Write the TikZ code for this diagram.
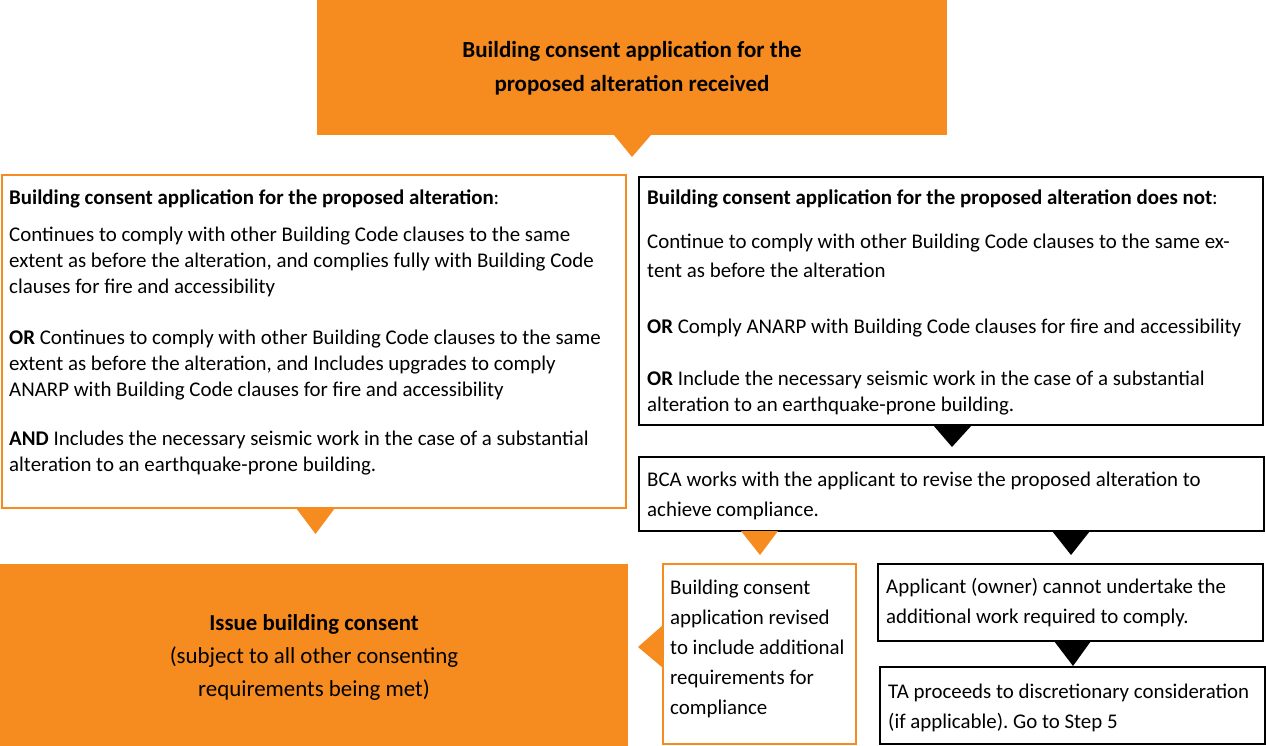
\documentclass[tikz,border=0pt]{standalone}
\usepackage{fontspec}
\setmainfont{Carlito}
\frenchspacing
\definecolor{org}{RGB}{246,139,31}
\begin{document}
\begin{tikzpicture}[x=1pt,y=-1pt,
  txt/.style={anchor=base west,inner sep=0pt,font=\fontsize{20.9}{24}\selectfont},
  ctxt/.style={anchor=base,inner sep=0pt,font=\fontsize{23}{27}\selectfont\bfseries},
  ictxt/.style={anchor=base,inner sep=0pt,font=\fontsize{22.9}{27}\selectfont},
  obox/.style={draw=org,line width=1.3pt},
  kbox/.style={draw=black,line width=1.2pt}]
\useasboundingbox (0,0) rectangle (1266,746);
% boxes
\fill[org] (317,0) rectangle (947,135);
\coordinate (topS) at (632,135);
\fill[org] (topS) ++(-18,0) -- ++(37,0) -- (632,157) -- cycle;
\draw[obox] (2,175) rectangle (626,508);
\coordinate (leftS) at (315.5,508);
\fill[org] (leftS) ++(-19.5,0) -- ++(39,0) -- (315.5,534) -- cycle;
\draw[kbox] (639,177) rectangle (1263,425);
\coordinate (rightS) at (952,425);
\fill[black] (rightS) ++(-19,0) -- ++(39,0) -- (952,447) -- cycle;
\draw[kbox] (639,457) rectangle (1264,531);
\coordinate (bcaA) at (760,531);
\fill[org] (bcaA) ++(-19,0) -- ++(37,0) -- (760,555) -- cycle;
\coordinate (bcaB) at (1071,531);
\fill[black] (bcaB) ++(-19,0) -- ++(38,0) -- (1071,555) -- cycle;
\fill[org] (0,564) rectangle (628,746);
\draw[obox] (663,564) rectangle (856,744);
\coordinate (revW) at (663,647);
\fill[org] (revW) ++(0,-22) -- (638,647) -- (663,668) -- cycle;
\draw[kbox] (878,564) rectangle (1263,641);
\coordinate (appS) at (1073,641);
\fill[black] (appS) ++(-19,0) -- ++(37,0) -- (1073,666) -- cycle;
\draw[kbox] (880,667) rectangle (1265,744);
% top text
\node[ctxt] (t1) at (632,58) {Building consent application for the};
\node[ctxt] (t2) at (632,92) {proposed alteration received};
% left box
\node[txt] (a0) at (9,205) {\textbf{Building consent application for the proposed alteration}:};
\node[txt] (a1) at (9,241) {Continues to comply with other Building Code clauses to the same};
\node[txt] (a2) at (9,267) {extent as before the alteration, and complies fully with Building Code};
\node[txt] (a3) at (9,293) {clauses for fire and accessibility};
\node[txt] (a4) at (9,344) {\textbf{OR} Continues to comply with other Building Code clauses to the same};
\node[txt] (a5) at (9,370) {extent as before the alteration, and Includes upgrades to comply};
\node[txt] (a6) at (9,396) {ANARP with Building Code clauses for fire and accessibility};
\node[txt] (a7) at (9,445) {\textbf{AND} Includes the necessary seismic work in the case of a substantial};
\node[txt] (a8) at (9,471) {alteration to an earthquake-prone building.};
% right box
\node[txt] (b0) at (647,205) {\textbf{Building consent application for the proposed alteration does not}:};
\node[txt] (b1) at (647,248) {Continue to comply with other Building Code clauses to the same ex-};
\node[txt] (b2) at (647,277) {tent as before the alteration};
\node[txt] (b3) at (647,333) {\textbf{OR} Comply ANARP with Building Code clauses for fire and accessibility};
\node[txt] (b4) at (647,385) {\textbf{OR} Include the necessary seismic work in the case of a substantial};
\node[txt] (b5) at (647,411) {alteration to an earthquake-prone building.};
% BCA
\node[txt] (c1) at (647,486) {BCA works with the applicant to revise the proposed alteration to};
\node[txt] (c2) at (647,516) {achieve compliance.};
% issue
\node[ctxt,font=\fontsize{22.8}{27}\selectfont\bfseries] (i1) at (314,630) {Issue building consent};
\node[ictxt] (i2) at (314,663) {(subject to all other consenting};
\node[ictxt] (i3) at (314,696) {requirements being met)};
% revised
\node[txt] (r1) at (670,594) {Building consent};
\node[txt] (r2) at (670,624) {application revised};
\node[txt] (r3) at (670,654) {to include additional};
\node[txt] (r4) at (670,684) {requirements for};
\node[txt] (r5) at (670,714) {compliance};
% applicant
\node[txt] (p1) at (886,593) {Applicant (owner) cannot undertake the};
\node[txt] (p2) at (886,623) {additional work required to comply.};
% TA
\node[txt] (q1) at (888,698) {TA proceeds to discretionary consideration};
\node[txt] (q2) at (888,728) {(if applicable). Go to Step 5};
\end{tikzpicture}
\end{document}
